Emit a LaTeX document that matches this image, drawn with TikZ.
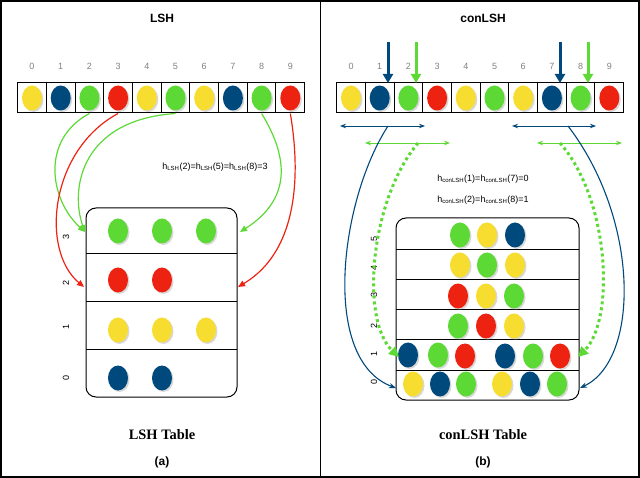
\documentclass[tikz,border=0pt]{standalone}
\usepackage{fontspec}
\setmainfont{Liberation Serif}
\newfontfamily\mysf{Liberation Sans}
\usetikzlibrary{arrows.meta,shadows,shapes.geometric}
\definecolor{cy}{HTML}{F7DD2F}
\definecolor{cb}{HTML}{00497C}
\definecolor{cg}{HTML}{5CD935}
\definecolor{cr}{HTML}{EE2211}
\begin{document}
\begin{tikzpicture}[x=1pt,y=-1pt,
 ball/.style={ellipse,minimum width=20pt,minimum height=25pt,inner sep=0,fill=#1,drop shadow={opacity=0.3,shadow xshift=1.5pt,shadow yshift=-1.5pt}},
 cell/.style={draw,line width=1pt,minimum width=28.7pt,minimum height=30pt,inner sep=0,fill=white},
 idx/.style={font=\mysf\small,text=gray},
 title/.style={font=\mysf\bfseries\large},
 sub/.style={font=\bfseries\Large},
 lab/.style={font=\mysf\bfseries\large},
 rl/.style={font=\mysf\small,rotate=90},
 arr/.style={-{Triangle[length=7pt,width=6pt]},line width=1.2pt},
 darr/.style={{Stealth[length=6pt]}-{Stealth[length=6pt]},line width=0.9pt},
 dots/.style={line width=3pt,dash pattern=on 3pt off 3pt},
 ]
\useasboundingbox (0,0) rectangle (640,478);
\draw[line width=1.2pt] (1,1) rectangle (639,477);
\draw[line width=1pt] (320,1) -- (320,477);
% titles
\node[title] (tl) at (162,18) {LSH};
\node[title] (tr) at (483,18) {conLSH};
% arrays
\foreach \side/\xo in {L/32,R/351}{
 \foreach \c [count=\i from 0] in {cy,cb,cg,cr,cy,cg,cy,cb,cg,cr}{
  \node[cell] (\side c\i) at (\xo+\i*28.7,98) {};
  \node[ball=\c] (\side b\i) at (\xo+\i*28.7,98) {};
  \node[idx] (\side n\i) at (\xo+\i*28.7,66) {\i};
 }}
% left table
\draw[line width=1pt,rounded corners=10pt,fill=white] (86,208) rectangle (237,397);
\foreach \y in {254,302,350} \draw[line width=1pt] (86,\y) -- (237,\y);
\foreach \l/\y in {3/237,2/283,1/327,0/378} \node[rl] (lr\l) at (66,\y) {\l};
\foreach \c [count=\i] in {cg,cg,cg} \node[ball=\c] (t3\i) at (74+44*\i,231) {};
\foreach \c [count=\i] in {cr,cr} \node[ball=\c] (t2\i) at (74+44*\i,280) {};
\foreach \c [count=\i] in {cy,cy,cy} \node[ball=\c] (t1\i) at (74+44*\i,330) {};
\foreach \c [count=\i] in {cb,cb} \node[ball=\c] (t0\i) at (74+44*\i,378) {};
\coordinate (L3) at (85,232); \coordinate (L2) at (84,287);
\coordinate (R3) at (240,232); \coordinate (R2) at (238,287);
\draw[arr,cg] (Lc2.south) .. controls (40,140) and (50,200) .. (L3);
\draw[arr,cg] (Lc5.south) .. controls (80,120) and (70,190) .. (L3);
\draw[arr,cr] (Lc3.south) .. controls (50,150) and (40,250) .. (L2);
\draw[arr,cg] (Lc8.south) .. controls (290,160) and (290,200) .. (R3);
\draw[arr,cr] (Lc9.south) .. controls (300,170) and (300,250) .. (R2);
\node[font=\mysf\small] (hl) at (215,167) {h\textsubscript{LSH}(2)=h\textsubscript{LSH}(5)=h\textsubscript{LSH}(8)=3};
\node[sub] (stl) at (162,435) {LSH Table};
\node[lab] (cl) at (162,462) {(a)};
% right table
\draw[line width=1pt,rounded corners=10pt,fill=white] (396,218) rectangle (579,400);
\foreach \y in {250,280,310,340,370} \draw[line width=1pt] (396,\y) -- (579,\y);
\foreach \l/\y in {5/239,4/268,3/295,2/326,1/354,0/382} \node[rl] (rr\l) at (374,\y) {\l};
\foreach \col/\px/\py/\n in {cg/460/235/a,cy/487/235/b,cb/515/235/c,
 cy/460/265/d,cg/487/265/e,cy/515/265/f,
 cr/458/296/g,cy/486/296/h,cg/514/296/i,
 cg/458/326/j,cr/486/326/k,cy/514/326/l,
 cb/408/355/m,cg/438/355/n,cr/465/356/o,cb/505/356/p,cg/533/356/q,cr/560/356/r,
 cy/413/384/s,cb/440/384/t,cg/466/384/u,cy/502/384/v,cb/530/384/w,cg/557/384/x}
 \node[ball=\col] (rb\n) at (\px,\py) {};
% top arrows
\foreach \nm/\px/\col in {a/388/cb,b/416/cg,c/560/cb,d/588/cg}{
 \coordinate (s\nm) at (\px,42); \coordinate (e\nm) at (\px,83);
 \draw[-{Triangle[length=9pt,width=10pt]},line width=3pt,\col] (s\nm) -- (e\nm);}
% double arrows
\foreach \nm/\xa/\xb/\py/\col in {p/340/425/126/cb,q/365/450/143/cg,r/512/596/126/cb,s/537/622/143/cg}{
 \coordinate (\nm1) at (\xa,\py); \coordinate (\nm2) at (\xb,\py);
 \draw[darr,\col] (\nm1) -- (\nm2);}
\coordinate (pm) at (388,126); \coordinate (qm) at (418,143);
\coordinate (rm) at (568,126); \coordinate (sm) at (560,143);
\coordinate (B0) at (396,388); \coordinate (G1) at (399,357);
\coordinate (B0r) at (580,388); \coordinate (G1r) at (578,357);
\draw[-{Stealth[length=7pt]},line width=1.1pt,cb] (pm) .. controls (340,200) and (320,360) .. (B0);
\draw[-{Triangle[length=10pt,width=10pt]},dots,cg] (qm) .. controls (370,200) and (360,320) .. (G1);
\draw[-{Stealth[length=7pt]},line width=1.1pt,cb] (rm) .. controls (640,220) and (640,360) .. (B0r);
\draw[-{Triangle[length=10pt,width=10pt]},dots,cg] (sm) .. controls (610,200) and (615,320) .. (G1r);
\node[font=\mysf\small] (h1) at (483,179) {h\textsubscript{conLSH}(1)=h\textsubscript{conLSH}(7)=0};
\node[font=\mysf\small] (h2) at (483,200) {h\textsubscript{conLSH}(2)=h\textsubscript{conLSH}(8)=1};
\node[sub] (str) at (483,435) {conLSH Table};
\node[lab] (cr2) at (483,462) {(b)};
\end{tikzpicture}
\end{document}
